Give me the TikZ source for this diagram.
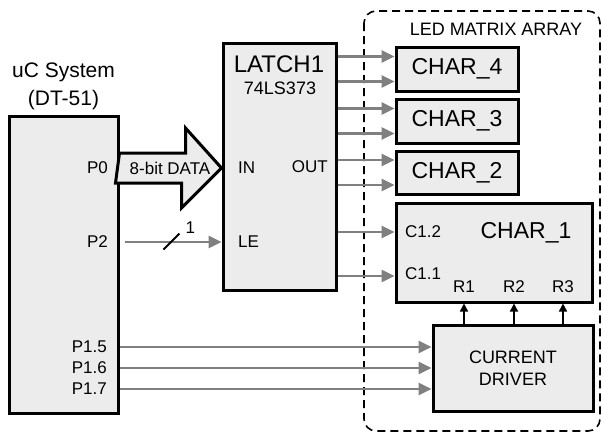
\documentclass[tikz,border=0pt]{standalone}
\usepackage{fontspec}
\setmainfont{Liberation Sans}
\usetikzlibrary{arrows.meta, positioning}

\begin{document}
\begin{tikzpicture}[
    x=1pt, y=-1pt,
    block/.style = {rectangle, draw, line width=3pt, fill=gray!15, inner sep=0pt},
    pin/.style = {inner sep=0pt, font=\fontsize{17}{17}\selectfont},
    title/.style = {inner sep=0pt, align=center, font=\fontsize{21}{28}\selectfont},
    charname/.style = {inner sep=0pt, font=\fontsize{23}{23}\selectfont},
    wire/.style = {line width=2.8pt, draw=gray, -{Triangle[length=13pt, width=12pt]}},
    rowarrow/.style = {line width=1.4pt, -{Triangle[length=8pt, width=8pt]}},
    bigarrow/.style = {line width=3pt, fill=gray!15, line join=miter}
]
    \useasboundingbox (0,0) rectangle (603,434);

    % LED matrix frame
    \draw[line width=1.6pt, dash pattern=on 8pt off 5pt, rounded corners=12pt]
        (364,11) rectangle (600,431);
    \node (matrix) [inner sep=0pt, font=\fontsize{18}{18}\selectfont] at (496,29) {LED MATRIX ARRAY};

    % Blocks
    \node (uc) [block, minimum width=109, minimum height=297] at (63.5,264.5) {};
    \node (uctitle) [title] at (63.5,86) {uC System\\(DT-51)};
    \node (latch) [block, minimum width=113, minimum height=247] at (279.5,166.5) {};
    \node (latchname) [inner sep=0pt, font=\fontsize{24}{24}\selectfont] at (279,64) {LATCH1};
    \node (latchtype) [inner sep=0pt, font=\fontsize{18}{18}\selectfont] at (280,88) {74LS373};

    \node (char4) [block, minimum width=122, minimum height=44] at (457,69) {};
    \node (char3) [block, minimum width=122, minimum height=44] at (457,121) {};
    \node (char2) [block, minimum width=122, minimum height=43] at (457,172.5) {};
    \node [charname] at (char4) {CHAR\_4};
    \node [charname] at (char3) {CHAR\_3};
    \node [charname] at (char2) {CHAR\_2};
    \node (char1) [block, minimum width=196, minimum height=99] at (494,252.5) {};
    \node (char1name) [charname] at (526,233) {CHAR\_1};
    \node (driver) [block, minimum width=160, minimum height=86, align=center,
        font=\fontsize{18}{22}\selectfont] at (513,368) {CURRENT\\DRIVER};

    % Pin labels
    \node (p0) [pin, anchor=east] at (108,168) {P0};
    \node (p2) [pin, anchor=east] at (108,242) {P2};
    \node (p15) [pin, anchor=east] at (107,347) {P1.5};
    \node (p16) [pin, anchor=east] at (107,368) {P1.6};
    \node (p17) [pin, anchor=east] at (107,389) {P1.7};
    \node (in) [pin, anchor=west] at (238,168) {IN};
    \node (le) [pin, anchor=west] at (238,242) {LE};
    \node (out) [pin, anchor=east] at (328,167) {OUT};
    \node (c12) [pin, anchor=west] at (405,232) {C1.2};
    \node (c11) [pin, anchor=west] at (405,274) {C1.1};
    \node (r1) [pin] at (464,287) {R1};
    \node (r2) [pin] at (514,287) {R2};
    \node (r3) [pin] at (563,287) {R3};

    % 8-bit data bus
    \draw[bigarrow] (uc.east |- p0) ++(0,-15) -- ++(66,0) -- ++(0,-25)
        -- (latch.west |- p0) -- ++(-40,40) -- ++(0,-25) -- ++(-66,0) -- cycle;
    \node (bus) [pin] at (170,168) {8-bit DATA};

    % Latch enable
    \draw[wire, shorten <=5pt] (uc.east |- le) -- (latch.west |- le);
    \coordinate (slash) at (171.5,241.5);
    \draw[line width=1.8pt] (slash) +(-8,8) -- +(8,-8);
    \node (width) [pin, right=14pt of slash, yshift=14pt] {1};

    % Latch outputs
    \foreach \c in {char4, char3, char2} {
        \coordinate (\c-a) at ([yshift=12.5pt]\c.west);
        \coordinate (\c-b) at ([yshift=-12.5pt]\c.west);
        \draw[wire] (latch.east |- \c-a) -- (\c-a);
        \draw[wire] (latch.east |- \c-b) -- (\c-b);
    }
    \draw[wire] (latch.east |- c12) -- (char1.west |- c12);
    \draw[wire] (latch.east |- 0,276) -- (char1.west |- 0,276);

    % Row drive
    \foreach \r in {r1, r2, r3}
        \draw[rowarrow] (driver.north -| \r) -- (char1.south -| \r);
    \foreach \p in {p15, p16, p17}
        \draw[wire] (uc.east |- \p) -- (driver.west |- \p);

\end{tikzpicture}
\end{document}
